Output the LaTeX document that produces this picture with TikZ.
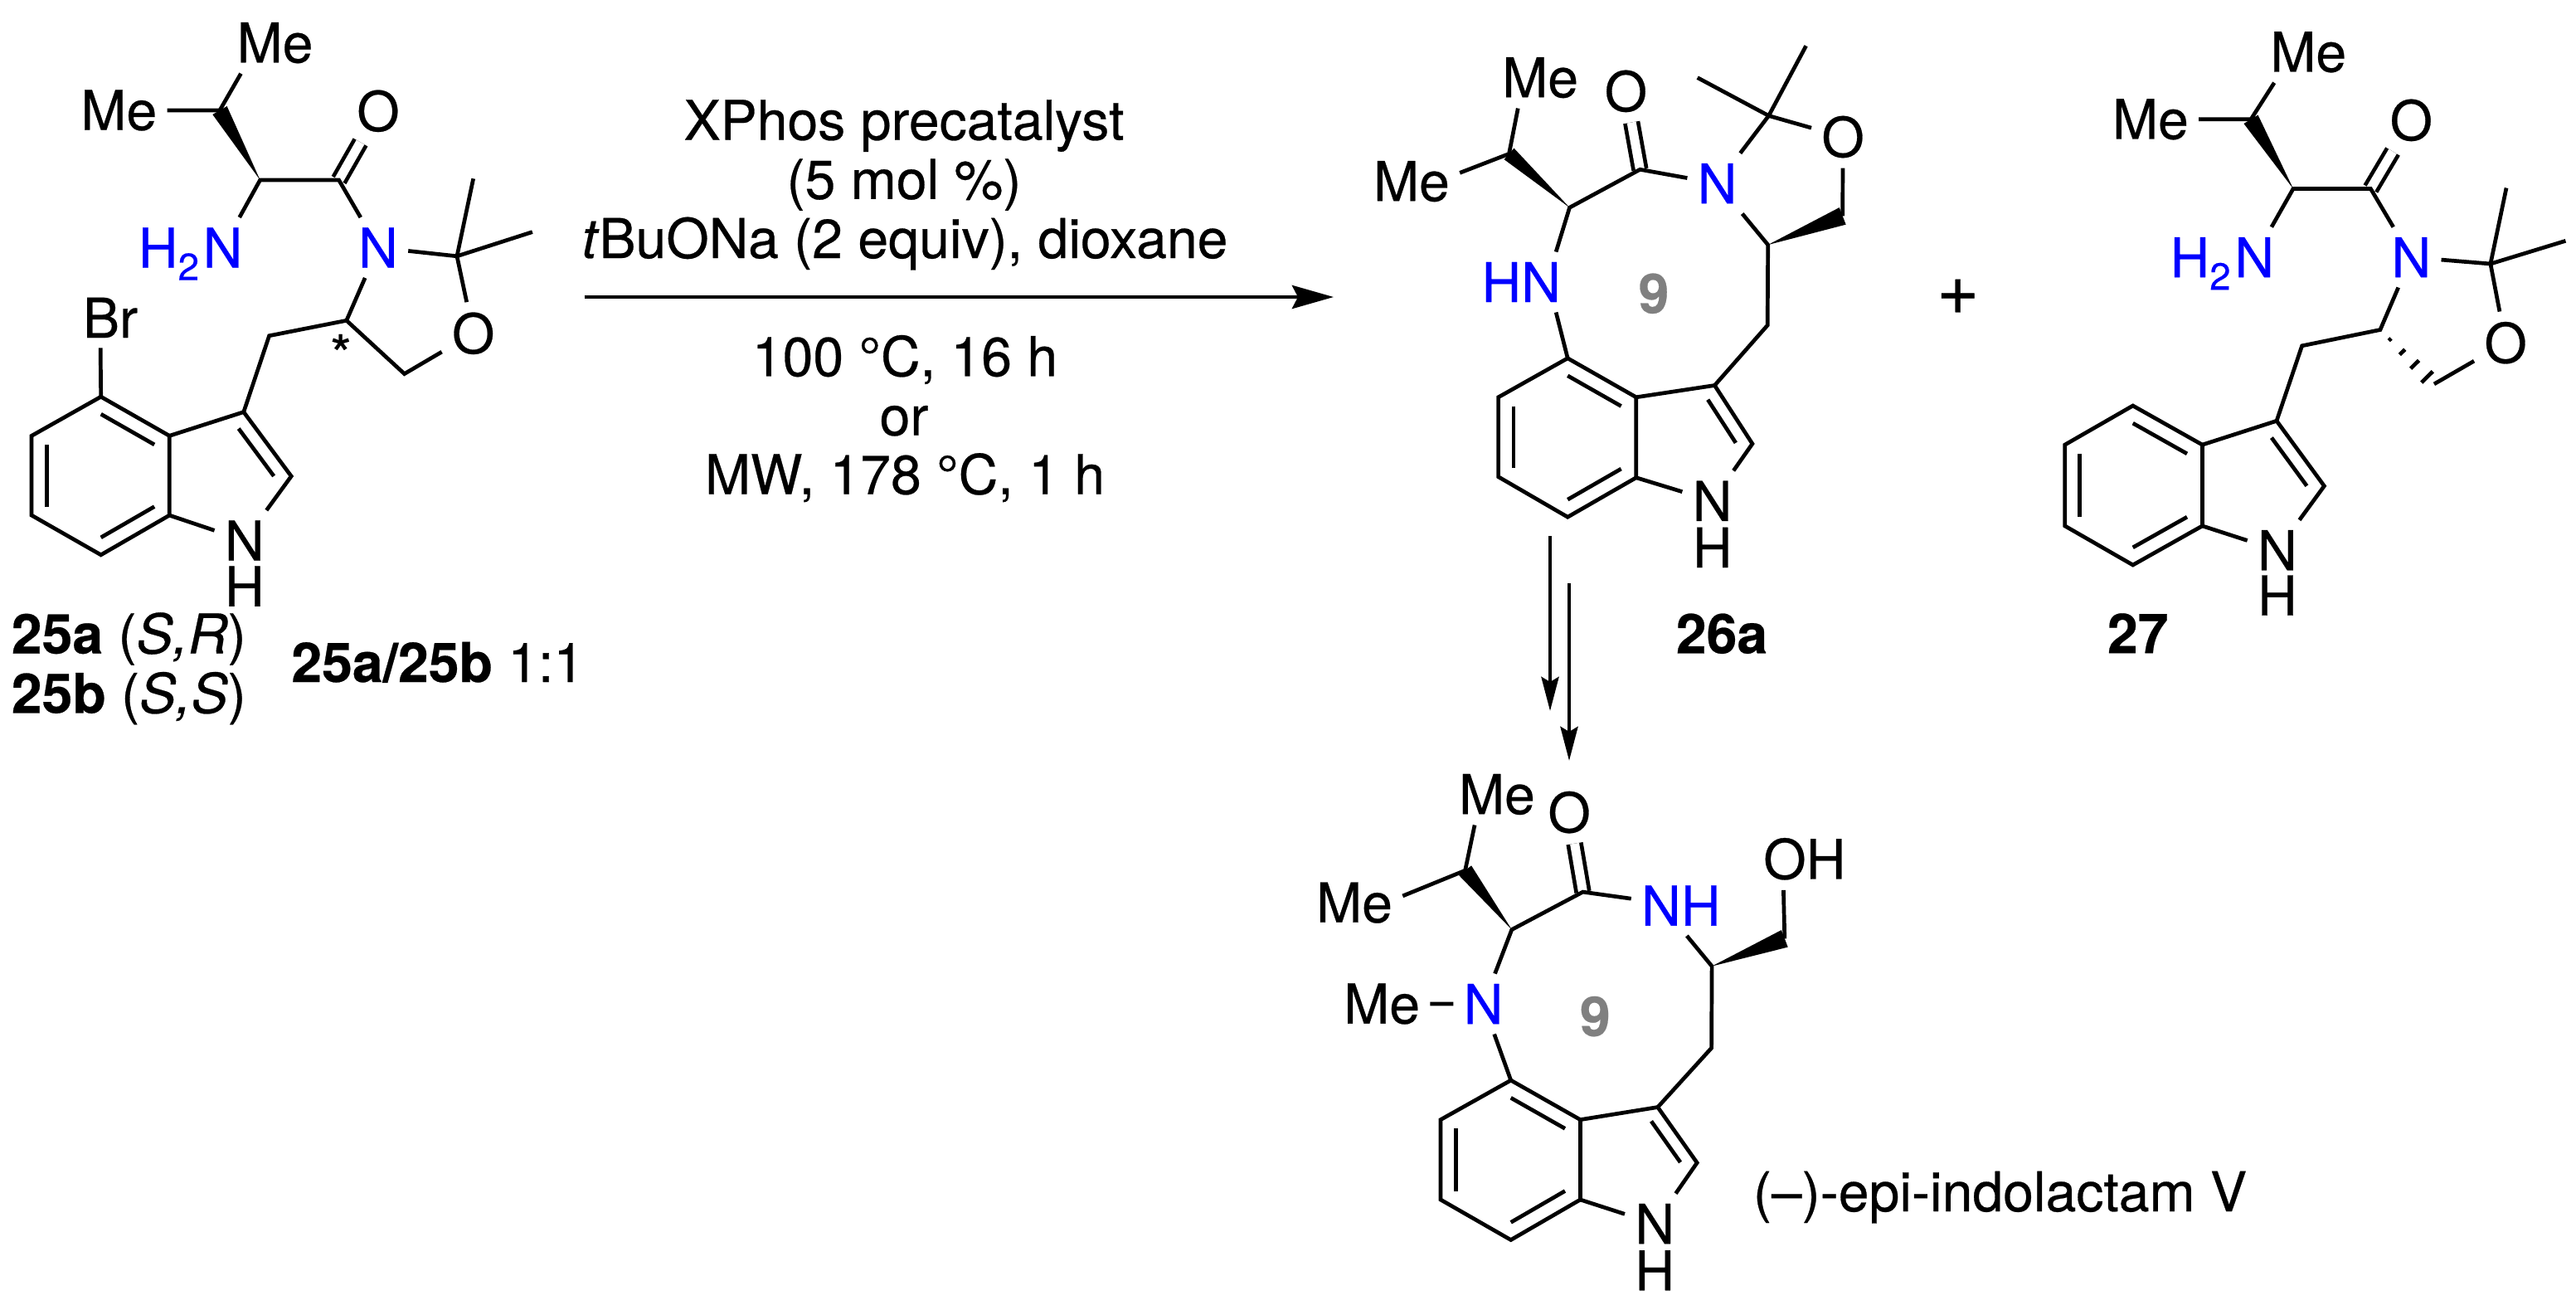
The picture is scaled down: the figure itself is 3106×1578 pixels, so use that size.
\documentclass[tikz,border=0pt]{standalone}
\usepackage{fontspec}
\setmainfont{TeX Gyre Heros}[FakeBold=0.4]
\usetikzlibrary{arrows.meta,calc,positioning}
\tikzset{
  lab/.style={inner sep=0.1cm},
  txt/.style={inner sep=0pt,anchor=base},
  dbl/.style={double,double distance=0.11cm},
  rxn/.style={-{Stealth[length=0.5cm,width=0.28cm,inset=0.07cm]}},
  sub/.style={-{Stealth[length=0.41cm,width=0.21cm,inset=0.06cm]}}
}
\newcommand{\wedgebond}[3]{\fill (#1) -- ($(#2)!#3!90:(#1)$) -- ($(#2)!#3!-90:(#1)$) -- cycle;}
\newcommand{\subtwo}{\raisebox{-0.15cm}{\fontsize{13}{14}\selectfont 2}}
\begin{document}
\begin{tikzpicture}[x=0.01cm,y=-0.01cm,line width=0.047cm,font=\fontsize{18.8}{22}\selectfont]
\useasboundingbox (0,0) rectangle (3106,1578);
% 25a/25b
\coordinate (ac4) at (121.7,478.2); \coordinate (ac5) at (38.1,525.3);
\coordinate (ac6) at (38.1,621.1); \coordinate (ac7) at (121.7,668.8);
\coordinate (ac7a) at (204.3,621.1); \coordinate (ac3a) at (204.3,525.3);
\coordinate (ac3) at (293.8,496.6); \coordinate (ac2) at (351.2,574);
\coordinate (acb) at (265,133); \coordinate (aca) at (313.6,217);
\coordinate (acc) at (408.6,217); \coordinate (ach2) at (324.6,404.7);
\coordinate (acs) at (417.8,386.3); \coordinate (aq) at (551,308.8);
\coordinate (ame3) at (570.7,215.3); \coordinate (ame4) at (641.9,279.6);
\coordinate (ach2o) at (487.6,450.6);
\node[lab] (aMe1) at (331.5,51.7) {Me};
\node[lab] (aMe2) at (143.3,133) {Me};
\node[lab] (aO1) at (456,133.8) {O};
\node[lab,blue] (aN1) at (268.6,298.5) {N};
\node[lab,blue,base left=-0.2cm of aN1] (aH2) {H\subtwo};
\node[lab,blue] (aN2) at (456,298.5) {N};
\node[lab] (aO2) at (570.7,401.8) {O};
\node[lab] (aBr) at (133,382.9) {Br};
\node[lab] (aN) at (294.8,651.5) {N};
\node[lab] (aH) at (294.8,706.7) {H};
\node (astar) at (411,427) {*};
\draw[dbl] (acc) -- (aO1);
\wedgebond{aca}{acb}{0.1cm}
\draw (aMe2) -- (acb) -- (aMe1.222);
\draw (aN1) -- (aca) -- (acc) -- (aN2) -- (aq) -- (aO2) -- (ach2o) -- (acs) -- (aN2);
\draw (aq) -- (ame3); \draw (aq) -- (ame4);
\draw (ac3) -- (ach2) -- (acs);
\draw (ac4) -- (aBr.252);
\node[txt,anchor=base west] (alab1) at (11.5,787.6) {\textbf{25a} (\textit{S,R})};
\node[txt,anchor=base west] (alab2) at (11.5,859.3) {\textbf{25b} (\textit{S,S})};
\node[txt,anchor=base west] (alab3) at (349,822) {\textbf{25a/25b} 1:1};
% conditions
\coordinate (rs) at (704.5,358); \coordinate (re) at (1608,358);
\draw[rxn] (rs) -- (re);
\node[txt] (t1) at (1090,168.5) {XPhos precatalyst};
\node[txt] (t2) at (1090,239.8) {(5 mol \%)};
\node[txt] (t3) at (1091,311) {\textit{t}BuONa (2 equiv), dioxane};
\node[txt] (t4) at (1091,453.3) {100 °C, 16 h};
\node[txt] (t5) at (1090,524.6) {or};
\node[txt] (t6) at (1091,595.5) {MW, 178 °C, 1 h};
% 26a
\coordinate (bc4) at (1890.2,431.8); \coordinate (bc5) at (1806.6,478.8);
\coordinate (bc6) at (1806.6,574.7); \coordinate (bc7) at (1890.2,623.2);
\coordinate (bc7a) at (1972.8,575.7); \coordinate (bc3a) at (1972.8,478.8);
\coordinate (bc3) at (2067.4,464.5); \coordinate (bc2) at (2112.9,534.9);
\coordinate (bcb) at (1819.5,185.4); \coordinate (bca) at (1892.5,250.2);
\coordinate (bcc) at (1977.4,204.3); \coordinate (bq) at (2132.6,139.5);
\coordinate (bme3) at (2177.6,55.3); \coordinate (bme4) at (2046.7,93.6);
\coordinate (bch2o) at (2221.7,260.4); \coordinate (bcs) at (2131.7,295.1);
\coordinate (bch2) at (2131.2,392);
\node[lab] (bMe1) at (1857.1,93.6) {Me};
\node[lab] (bMe2) at (1701.9,218.6) {Me};
\node[lab] (bO1) at (1960.4,109.9) {O};
\node[lab,blue] (bN2) at (2070.6,221.1) {N};
\node[lab] (bO2) at (2222.1,165) {O};
\node[lab,blue] (bHN) at (1834.2,340) {HN};
\node[lab] (bN) at (2064.6,603.8) {N};
\node[lab] (bH) at (2064.6,659.9) {H};
\node[gray] (bnine) at (1994,353.8) {\textbf{9}};
\draw[dbl] (bcc) -- (bO1);
\wedgebond{bca}{bcb}{0.09cm}
\wedgebond{bcs}{bch2o}{0.11cm}
\draw (bMe2.10) -- (bcb) -- (bMe1.234);
\draw (bHN.41) -- (bca) -- (bcc) -- (bN2) -- (bcs) -- (bch2) -- (bc3);
\draw (bHN.-41) -- (bc4);
\draw (bN2) -- (bq) -- (bO2) -- (bch2o);
\draw (bq) -- (bme3); \draw (bq) -- (bme4);
\node[txt] (blab) at (2076,787.4) {\textbf{26a}};
% plus
\node[font=\fontsize{25}{28}\selectfont] (plus) at (2360.7,357.7) {+};
% 27
\coordinate (cc4) at (2571.7,489); \coordinate (cc5) at (2489.7,536.1);
\coordinate (cc6) at (2489.7,633.9); \coordinate (cc7) at (2571.7,681);
\coordinate (cc7a) at (2655.4,633.9); \coordinate (cc3a) at (2655.4,536.1);
\coordinate (cc3) at (2745,507.3); \coordinate (cc2) at (2802.4,585.8);
\coordinate (ccb) at (2714,143.8); \coordinate (cca) at (2765,227.5);
\coordinate (ccc) at (2858.4,227.5); \coordinate (cq) at (3002.9,318);
\coordinate (cme3) at (3022,226.5); \coordinate (cme4) at (3093.4,290.3);
\coordinate (ccs) at (2869.9,397.5); \coordinate (cch2) at (2775.6,416.8);
\coordinate (cch2o) at (2934.9,462.9);
\node[lab] (cMe1) at (2783.2,62.8) {Me};
\node[lab] (cMe2) at (2592.9,143.8) {Me};
\node[lab] (cO1) at (2907.3,144.9) {O};
\node[lab,blue] (cN1) at (2718.2,310.1) {N};
\node[lab,blue,base left=-0.2cm of cN1] (cH2) {H\subtwo};
\node[lab,blue] (cN2) at (2907.3,310.1) {N};
\node[lab] (cO2) at (3021.1,413.2) {O};
\node[lab] (cN) at (2745.9,663.2) {N};
\node[lab] (cH) at (2745.9,717.6) {H};
\draw[dbl] (ccc) -- (cO1);
\wedgebond{cca}{ccb}{0.1cm}
\draw (cMe2) -- (ccb) -- (cMe1.222);
\draw (cN1) -- (cca) -- (ccc) -- (cN2) -- (cq) -- (cO2) -- (cch2o);
\draw (cq) -- (cme3); \draw (cq) -- (cme4);
\draw (cN2) -- (ccs) -- (cch2) -- (cc3);
\foreach \t/\w in {.18/.02,.41/.045,.64/.07,.87/.095}
  \draw ($(ccs)!\t!(cch2o)!\w cm!90:(cch2o)$) -- ($(ccs)!\t!(cch2o)!\w cm!-90:(cch2o)$);
\node[txt,anchor=base west] (clab) at (2538.6,787.1) {\textbf{27}};
% arrows
\coordinate (ar1) at (1869,646); \coordinate (ar2) at (1869,857);
\coordinate (ar3) at (1892,703); \coordinate (ar4) at (1892,917);
\draw[sub] (ar1) -- (ar2);
\draw[sub] (ar3) -- (ar4);
% indolactam
\coordinate (dc4) at (1821.7,1302.1); \coordinate (dc5) at (1737,1349.6);
\coordinate (dc6) at (1737,1446); \coordinate (dc7) at (1821.7,1494.5);
\coordinate (dc7a) at (1905.4,1446); \coordinate (dc3a) at (1905.4,1349.6);
\coordinate (dc3) at (1998.8,1334.5); \coordinate (dc2) at (2046.2,1401.5);
\coordinate (dcb) at (1766.6,1049.2); \coordinate (dca) at (1822.8,1120.5);
\coordinate (dcc) at (1908.5,1075.1); \coordinate (dcs) at (2064.1,1164.6);
\coordinate (dch2o) at (2151.8,1131.3); \coordinate (dch2) at (2063.6,1263.2);
\node[lab] (dMe1) at (1804.9,957.5) {Me};
\node[lab] (dMe2) at (1633,1088.1) {Me};
\node[lab] (dO1) at (1892.1,979.1) {O};
\node[lab,blue] (dNH) at (2026.8,1091.5) {NH};
\node[lab] (dOH) at (2175.8,1035.3) {OH};
\node[lab,blue] (dN1) at (1788.6,1210) {N};
\node[lab] (dMe3) at (1666.1,1210) {Me};
\node[lab] (dN) at (1995.2,1475) {N};
\node[lab] (dH) at (1995.2,1531.2) {H};
\node[gray] (dnine) at (1923.3,1225.1) {\textbf{9}};
\draw[dbl] (dcc) -- (dO1);
\wedgebond{dca}{dcb}{0.095cm}
\wedgebond{dcs}{dch2o}{0.11cm}
\draw (dMe2.8) -- (dcb) -- (dMe1.234);
\draw (dMe3) -- (dN1) -- (dca) -- (dcc) -- (dNH);
\draw (dNH.-79) -- (dcs) -- (dch2) -- (dc3);
\draw (dch2o) -- (dOH.236);
\draw (dN1) -- (dc4);
\node[txt,anchor=base west] (dlab) at (2111.6,1460) {(–)-epi-indolactam V};
% the four indoles
\foreach \s in {a,b,c,d}{
  \draw (\s c4) -- (\s c5) -- (\s c6) -- (\s c7) -- (\s c7a) -- (\s c3a) -- cycle;
  \draw (\s c3a) -- (\s c3) -- (\s c2) -- (\s N) -- (\s c7a);
  \coordinate (\s r6) at ($(\s c4)!.5!(\s c7)$);
  \coordinate (\s r5) at ($($(\s c3a)!.5!(\s c7a)$)!.45!(\s c2)$);
  \draw ($(\s c4)!.22!(\s r6)$) -- ($(\s c3a)!.22!(\s r6)$);
  \draw ($(\s c5)!.22!(\s r6)$) -- ($(\s c6)!.22!(\s r6)$);
  \draw ($(\s c7)!.22!(\s r6)$) -- ($(\s c7a)!.22!(\s r6)$);
  \draw ($(\s c3)!.26!(\s r5)$) -- ($(\s c2)!.26!(\s r5)$);
}
\end{tikzpicture}
\end{document}
